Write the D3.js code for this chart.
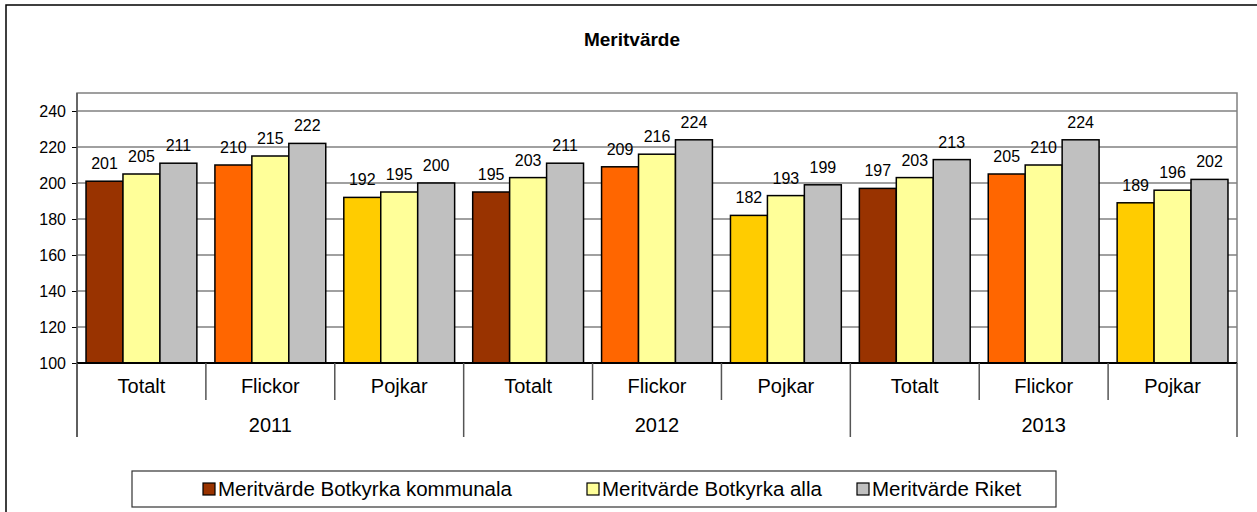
<!DOCTYPE html>
<html>
<head>
<meta charset="utf-8">
<script src="https://cdn.jsdelivr.net/npm/d3@7"></script>
<style>
  body { margin: 0; background: #fff; }
  svg { display: block; font-family: "Liberation Sans", Arial, sans-serif; }
</style>
</head>
<body>
<div id="chart"></div>
<script>
// data
let years = ["2011", "2012", "2013"];
let groups = ["Totalt", "Flickor", "Pojkar"];
let kommunala = [201, 210, 192, 195, 209, 182, 197, 205, 189];
let alla = [205, 215, 195, 203, 216, 193, 203, 210, 196];
let riket = [211, 222, 200, 211, 224, 199, 213, 224, 202];
let seriesNames = ["Meritvärde Botkyrka kommunala", "Meritvärde Botkyrka alla", "Meritvärde Riket"];
let yTicks = [100, 120, 140, 160, 180, 200, 220, 240];

// first series changes colour by group
let groupColors = {"Totalt": "#993300", "Flickor": "#FF6600", "Pojkar": "#FFCC00"};
let seriesColors = ["#993300", "#FFFF99", "#C0C0C0"];

let W = 1257, H = 512;
let margin = {top: 93, right: 20, bottom: 149, left: 77};
let plotW = 1237 - margin.left;
let plotH = 363 - margin.top;

let svg = d3.select("#chart").append("svg")
    .attr("width", W)
    .attr("height", H);

// outer chart frame (runs off the right and bottom)
svg.append("rect")
    .attr("x", 6).attr("y", 5)
    .attr("width", W + 20).attr("height", H + 20)
    .attr("fill", "none")
    .attr("stroke", "#000")
    .attr("stroke-width", 1.5);

svg.append("text")
    .attr("x", 632).attr("y", 46)
    .attr("text-anchor", "middle")
    .style("font-weight", "bold")
    .style("font-size", "19px")
    .text("Meritvärde");

let g = svg.append("g")
    .attr("transform", `translate(${margin.left},${margin.top})`);

// build rows
let rows = [];
years.forEach((yr, i) => {
    groups.forEach((grp, j) => {
        let k = i * groups.length + j;
        rows.push({key: yr + "-" + grp, year: yr, group: grp, values: [kommunala[k], alla[k], riket[k]]});
    });
});

let x0 = d3.scaleBand()
    .domain(rows.map(d => d.key))
    .range([0, plotW])
    .paddingInner(0.14)
    .paddingOuter(0.07);

let x1 = d3.scaleBand()
    .domain([0, 1, 2])
    .range([0, x0.bandwidth()]);

let y = d3.scaleLinear()
    .domain([100, 250])
    .range([plotH, 0]);

// gridlines
g.selectAll(".grid")
    .data(yTicks.slice(1))
    .enter().append("line")
    .attr("x1", 0).attr("x2", plotW)
    .attr("y1", d => y(d)).attr("y2", d => y(d))
    .attr("stroke", "#808080")
    .attr("stroke-width", 1.5);

// plot area border
g.append("rect")
    .attr("x", 0).attr("y", 0)
    .attr("width", plotW).attr("height", plotH)
    .attr("fill", "none")
    .attr("stroke", "#808080")
    .attr("stroke-width", 1.5);

// y axis
let yAxis = d3.axisLeft(y).tickValues(yTicks).tickSize(5).tickPadding(6);
let yG = g.append("g").call(yAxis);
yG.select(".domain").remove();
yG.selectAll("line").attr("stroke", "#000");
yG.selectAll("text")
    .style("font-size", "16px")
    .style("font-family", "Liberation Sans, Arial, sans-serif")
    .attr("fill", "#000");

// bars
let cat = g.selectAll(".cat")
    .data(rows)
    .enter().append("g")
    .attr("transform", d => `translate(${x0(d.key)},0)`);

cat.selectAll("rect")
    .data(d => d.values.map((v, s) => ({v: v, s: s, group: d.group})))
    .enter().append("rect")
    .attr("x", d => x1(d.s))
    .attr("y", d => y(d.v))
    .attr("width", x1.bandwidth())
    .attr("height", d => plotH - y(d.v))
    .attr("fill", d => d.s === 0 ? groupColors[d.group] : seriesColors[d.s])
    .attr("stroke", "#000")
    .attr("stroke-width", 1.5);

cat.selectAll(".lbl")
    .data(d => d.values.map((v, s) => ({v: v, s: s})))
    .enter().append("text")
    .attr("x", d => x1(d.s) + x1.bandwidth() / 2)
    .attr("y", d => y(d.v) - 12)
    .attr("text-anchor", "middle")
    .style("font-size", "16px")
    .text(d => d.v);

// left axis line and bottom axis line
g.append("line")
    .attr("x1", 0).attr("x2", 0)
    .attr("y1", 0).attr("y2", 344)
    .attr("stroke", "#555").attr("stroke-width", 1.5);

g.append("line")
    .attr("x1", 0).attr("x2", plotW)
    .attr("y1", plotH).attr("y2", plotH)
    .attr("stroke", "#000").attr("stroke-width", 2);

// category separators
let step = x0.step();
let sepStart = x0(rows[0].key) - x0.paddingOuter() * step;
d3.range(rows.length + 1).forEach(i => {
    let xx = sepStart + i * step;
    let isYear = i % groups.length === 0;
    g.append("line")
        .attr("x1", xx).attr("x2", xx)
        .attr("y1", plotH).attr("y2", isYear ? 344 : 307)
        .attr("stroke", "#555").attr("stroke-width", 1.5);
});

// category labels
g.selectAll(".catlbl")
    .data(rows)
    .enter().append("text")
    .attr("x", d => x0(d.key) + x0.bandwidth() / 2)
    .attr("y", 393 - margin.top)
    .attr("text-anchor", "middle")
    .style("font-size", "20px")
    .text(d => d.group);

// year labels
g.selectAll(".yearlbl")
    .data(years)
    .enter().append("text")
    .attr("x", (d, i) => sepStart + (i + 0.5) * step * groups.length)
    .attr("y", 432 - margin.top)
    .attr("text-anchor", "middle")
    .style("font-size", "20px")
    .text(d => d);

// legend
let legend = svg.append("g");
legend.append("rect")
    .attr("x", 132).attr("y", 471)
    .attr("width", 924).attr("height", 36)
    .attr("fill", "#fff")
    .attr("stroke", "#333")
    .attr("stroke-width", 1.2);

let legendX = [203, 587, 857];
seriesNames.forEach((name, i) => {
    legend.append("rect")
        .attr("x", legendX[i]).attr("y", 483)
        .attr("width", 12).attr("height", 12)
        .attr("fill", seriesColors[i])
        .attr("stroke", "#000")
        .attr("stroke-width", 1.2);
    legend.append("text")
        .attr("x", legendX[i] + 15).attr("y", 496)
        .style("font-size", "20.5px")
        .text(name);
});
</script>
</body>
</html>
